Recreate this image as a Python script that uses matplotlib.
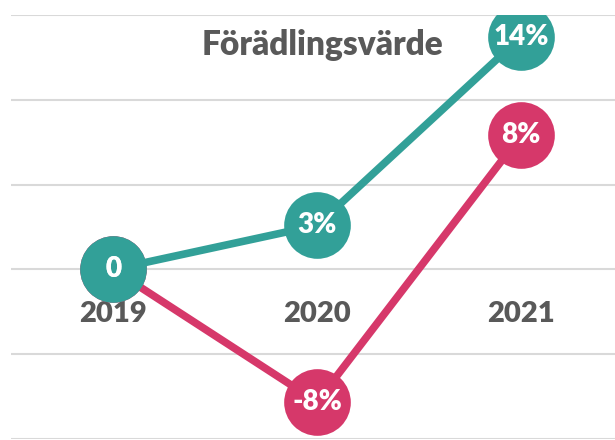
"""Förädlingsvärde: yearly change, two series drawn as lines with labelled circle markers."""

import matplotlib

matplotlib.use("Agg")
import matplotlib.pyplot as plt

years = ["2019", "2020", "2021"]
teal_values = [0, 2.6, 13.7]
pink_values = [0, -7.8, 7.9]
title = "Förädlingsvärde"

TEAL = "#32A098"
PINK = "#D6386A"
GRAY = "#595959"

plt.rcParams["font.family"] = ["Lato", "DejaVu Sans"]


def fmt(v):
    return "0" if v == 0 else f"{v:.0f}%"


fig = plt.figure(figsize=(6.15, 4.4), dpi=100)
ax = fig.add_axes([11 / 615, 0.002, 612 / 615, 0.964])

x = range(len(years))
for values, color in ((pink_values, PINK), (teal_values, TEAL)):
    ax.plot(x, values, color=color, lw=5.5, marker="o", ms=48,
            markeredgewidth=0, solid_capstyle="butt", zorder=3)
    for xi, v in zip(x, values):
        ax.text(xi, v, fmt(v), color="white", fontsize=20, fontweight="heavy",
                ha="center", va="center", zorder=4)

ax.set_xlim(-0.5, 2.5)
ax.set_ylim(-10, 15)
ax.set_yticks(range(-10, 16, 5))
ax.yaxis.grid(True, color="#D9D9D9", lw=1.5)
ax.set_axisbelow(True)
ax.tick_params(axis="y", left=False, labelleft=False)

ax.spines["bottom"].set_position(("data", 0))
for side in ("top", "right", "left", "bottom"):
    ax.spines[side].set_visible(False)
ax.set_xticks(list(x))
ax.set_xticklabels(years, fontsize=21, fontweight="heavy", color=GRAY)
ax.tick_params(axis="x", length=0, pad=23)

fig.text(322 / 615, 1 - 45 / 440, title, fontsize=24, fontweight="heavy",
         color=GRAY, ha="center", va="center")

fig.savefig("out.png", dpi=100)
